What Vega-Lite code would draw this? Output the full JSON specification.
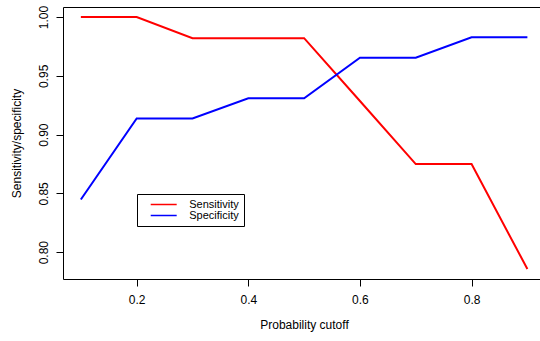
{
  "$schema": "https://vega.github.io/schema/vega-lite/v6.json",
  "width": 477,
  "height": 272,
  "autosize": "none",
  "padding": {"left": 63, "top": 7, "right": 0, "bottom": 62},
  "background": "white",
  "config": {
    "font": "Liberation Sans",
    "view": {"stroke": "black", "strokeWidth": 1},
    "axis": {"grid": false, "domain": false, "tickColor": "black", "tickSize": 7, "labelColor": "black", "titleColor": "black", "labelFontSize": 12, "titleFontSize": 12, "titleFontWeight": "normal", "labelFont": "Liberation Sans", "titleFont": "Liberation Sans"}
  },
  "data": {"values": [
    {"cutoff": 0.1, "measure": "Sensitivity", "value": 1.0},
    {"cutoff": 0.2, "measure": "Sensitivity", "value": 1.0},
    {"cutoff": 0.3, "measure": "Sensitivity", "value": 0.9821},
    {"cutoff": 0.4, "measure": "Sensitivity", "value": 0.9821},
    {"cutoff": 0.5, "measure": "Sensitivity", "value": 0.9821},
    {"cutoff": 0.6, "measure": "Sensitivity", "value": 0.9286},
    {"cutoff": 0.7, "measure": "Sensitivity", "value": 0.875},
    {"cutoff": 0.8, "measure": "Sensitivity", "value": 0.875},
    {"cutoff": 0.9, "measure": "Sensitivity", "value": 0.7857},
    {"cutoff": 0.1, "measure": "Specificity", "value": 0.8448},
    {"cutoff": 0.2, "measure": "Specificity", "value": 0.9138},
    {"cutoff": 0.3, "measure": "Specificity", "value": 0.9138},
    {"cutoff": 0.4, "measure": "Specificity", "value": 0.931},
    {"cutoff": 0.5, "measure": "Specificity", "value": 0.931},
    {"cutoff": 0.6, "measure": "Specificity", "value": 0.9655},
    {"cutoff": 0.7, "measure": "Specificity", "value": 0.9655},
    {"cutoff": 0.8, "measure": "Specificity", "value": 0.9828},
    {"cutoff": 0.9, "measure": "Specificity", "value": 0.9828}
  ]},
  "mark": {"type": "line", "strokeWidth": 2},
  "encoding": {
    "x": {"field": "cutoff", "type": "quantitative",
      "scale": {"domain": [0.068, 0.9226], "nice": false, "zero": false},
      "axis": {"values": [0.2, 0.4, 0.6, 0.8], "format": ".1f", "title": "Probability cutoff", "labelPadding": 8, "titlePadding": 14, "titleX": 241}},
    "y": {"field": "value", "type": "quantitative",
      "scale": {"domain": [0.7772, 1.0086], "nice": false, "zero": false},
      "axis": {"values": [0.8, 0.85, 0.9, 0.95, 1.0], "format": ".2f", "title": "Sensitivity/specificity", "labelAngle": -90, "labelAlign": "center", "labelBaseline": "bottom", "labelPadding": 6, "titlePadding": 14}},
    "color": {"field": "measure", "type": "nominal",
      "scale": {"domain": ["Sensitivity", "Specificity"], "range": ["#FF0000", "#0000FF"]},
      "legend": {"title": null, "orient": "none", "legendX": 74, "legendY": 187, "strokeColor": "black", "padding": 5, "symbolType": "M-3,0H3", "symbolSize": 75, "symbolStrokeWidth": 1.5, "labelFontSize": 11, "labelColor": "black", "symbolOffset": 16.2, "labelOffset": 20, "rowPadding": -1, "labelLimit": 300, "cornerRadius": 0, "labelExpr": "datum.label + '\u00a0\u00a0\u00a0\u00a0'"}}
  }
}
